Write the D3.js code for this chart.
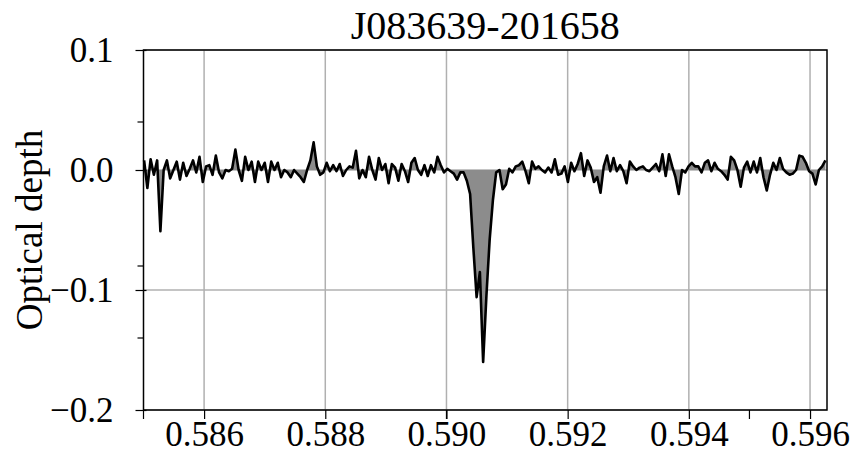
<!DOCTYPE html>
<html>
<head>
<meta charset="utf-8">
<script src="https://cdn.jsdelivr.net/npm/d3@7"></script>
<style>
  body { margin: 0; background: #fff; }
  text { font-family: "Liberation Serif", "DejaVu Serif", serif; fill: #000; }
</style>
</head>
<body>
<svg id="chart" width="852" height="454"></svg>
<script>
// Absorption spectrum: optical depth per channel
const title = "J083639-201658";
const yLabel = "Optical depth";
const chanStart = 0.58501;   // first channel position
const chanWidth = 0.0000538; // channel spacing
const tau = [
   0.008, -0.015,  0.009, -0.004,  0.008, -0.051,  0.000,  0.008, -0.007,  0.000,
   0.007, -0.008,  0.006, -0.005,  0.001,  0.008, -0.002,  0.011, -0.010,  0.003,
   0.004, -0.004,  0.012, -0.002, -0.007,  0.000, -0.001,  0.001,  0.017,  0.000,
  -0.009,  0.011,  0.000,  0.007, -0.010,  0.007,  0.000,  0.006, -0.010,  0.007,
   0.000,  0.006, -0.006,  0.000, -0.002, -0.006,  0.000, -0.003, -0.006, -0.010,
   0.000,  0.008,  0.023,  0.003, -0.004, -0.002,  0.006, -0.001,  0.004, -0.001,
   0.005, -0.005,  0.000,  0.003,  0.002,  0.016, -0.007,  0.000, -0.006,  0.011,
   0.000, -0.008,  0.010,  0.000,  0.005, -0.011,  0.005,  0.002, -0.009,  0.005,
  -0.001, -0.010,  0.006,  0.010,  0.000, -0.004,  0.004, -0.005,  0.004, -0.002,
   0.011,  0.004, -0.002,  0.001, -0.001, -0.003, -0.008, -0.002, -0.002, -0.009,
  -0.020, -0.065, -0.106, -0.085, -0.160, -0.105, -0.058, -0.025, -0.002,  0.000,
  -0.016, -0.012,  0.001, -0.002,  0.003,  0.004,  0.007, -0.001, -0.011,  0.007,
   0.001,  0.003,  0.000, -0.002,  0.002, -0.002,  0.009, -0.004, -0.003,  0.003,
  -0.010,  0.006, -0.001,  0.005,  0.014, -0.005,  0.008,  0.002, -0.010, -0.006,
  -0.019,  0.003,  0.012, -0.001,  0.010, -0.001,  0.004, -0.001, -0.011,  0.007,
   0.003,  0.000,  0.002,  0.003,  0.000, -0.001,  0.002,  0.005, -0.001,  0.013,
  -0.005,  0.013,  0.003, -0.006, -0.020,  0.000, -0.002,  0.003,  0.006,  0.003,
   0.003, -0.002,  0.006,  0.008, -0.001,  0.006,  0.001, -0.001, -0.004, -0.008,
   0.011,  0.008,  0.000, -0.014,  0.002,  0.007, -0.002,  0.007, -0.002,  0.010,
  -0.006, -0.017, -0.004,  0.006,  0.000,  0.010,  0.001, -0.002, -0.004, -0.003,
   0.000,  0.012,  0.011,  0.006, -0.001, -0.003, -0.012,  0.000,  0.003,  0.008
];
const xTicks = [0.586, 0.588, 0.590, 0.592, 0.594, 0.596];
const xTickLabels = ["0.586", "0.588", "0.590", "0.592", "0.594", "0.596"];
const xMinorTicks = [0.585, 0.590, 0.595];
const yTicks = [0.1, 0.0, -0.1, -0.2];
const yTickLabels = ["0.1", "0.0", "\u22120.1", "\u22120.2"];
const yMinorTicks = [0.04, -0.08, -0.14];

const W = 852, H = 454;
const margin = { top: 50, right: 25, bottom: 44, left: 143.5 };
const svg = d3.select("#chart");

const x = d3.scaleLinear().domain([0.585, 0.59628]).range([margin.left, W - margin.right]);
const y = d3.scaleLinear().domain([-0.2, 0.1]).range([H - margin.bottom, margin.top]);

const data = tau.map((v, i) => ({ f: chanStart + i * chanWidth, v }));

// grid
const grid = svg.append("g").attr("stroke", "#b0b0b0").attr("stroke-width", 1.5);
grid.selectAll("line.vx").data(xTicks).join("line")
  .attr("x1", d => x(d)).attr("x2", d => x(d))
  .attr("y1", y(0.1)).attr("y2", y(-0.2));
grid.selectAll("line.hy").data(yTicks).join("line")
  .attr("x1", x.range()[0]).attr("x2", x.range()[1])
  .attr("y1", d => y(d)).attr("y2", d => y(d));

// filled area between spectrum and zero
const area = d3.area().x(d => x(d.f)).y0(y(0)).y1(d => y(d.v));
svg.append("path").datum(data).attr("d", area).attr("fill", "#8c8c8c");

// spectrum line
const line = d3.line().x(d => x(d.f)).y(d => y(d.v));
svg.append("path").datum(data).attr("d", line)
  .attr("fill", "none").attr("stroke", "#000").attr("stroke-width", 2.6)
  .attr("stroke-linejoin", "round");

// frame
svg.append("rect")
  .attr("x", x.range()[0]).attr("y", y(0.1))
  .attr("width", x.range()[1] - x.range()[0]).attr("height", y(-0.2) - y(0.1))
  .attr("fill", "none").attr("stroke", "#000").attr("stroke-width", 1.5);

// x axis
const xAxis = d3.axisBottom(x).tickValues(xTicks)
  .tickFormat((d, i) => xTickLabels[i]).tickSize(9).tickPadding(2);
const gx = svg.append("g").attr("transform", `translate(0,${y(-0.2)})`).call(xAxis);
gx.select(".domain").remove();
gx.selectAll(".tick line").attr("stroke", "#000").attr("stroke-width", 1.2);
gx.selectAll(".tick text").style("font-size", "35px").attr("font-family", "Liberation Serif");
gx.selectAll("line.minor").data(xMinorTicks).join("line").attr("class", "minor")
  .attr("x1", d => x(d)).attr("x2", d => x(d)).attr("y1", 0).attr("y2", 9)
  .attr("stroke", "#000").attr("stroke-width", 1.2);

// y axis
const yAxis = d3.axisLeft(y).tickValues(yTicks)
  .tickFormat((d, i) => yTickLabels[i]).tickSize(8).tickPadding(22);
const gy = svg.append("g").attr("transform", `translate(${x.range()[0]},0)`).call(yAxis);
gy.select(".domain").remove();
gy.selectAll(".tick line").attr("stroke", "#000").attr("stroke-width", 1.2).attr("x2", -8).attr("x1", 3);
gy.selectAll(".tick text").style("font-size", "35px").attr("font-family", "Liberation Serif");
gy.selectAll("line.minor").data(yMinorTicks).join("line").attr("class", "minor")
  .attr("x1", -6).attr("x2", 0).attr("y1", d => y(d)).attr("y2", d => y(d))
  .attr("stroke", "#000").attr("stroke-width", 1.2);

// title
svg.append("text").attr("x", (x.range()[0] + x.range()[1]) / 2).attr("y", 39)
  .attr("text-anchor", "middle").style("font-size", "40px").text(title);

// y label
svg.append("text")
  .attr("transform", `translate(42,${(y(0.1) + y(-0.2)) / 2}) rotate(-90)`)
  .attr("text-anchor", "middle").style("font-size", "37px").text(yLabel);
</script>
</body>
</html>
